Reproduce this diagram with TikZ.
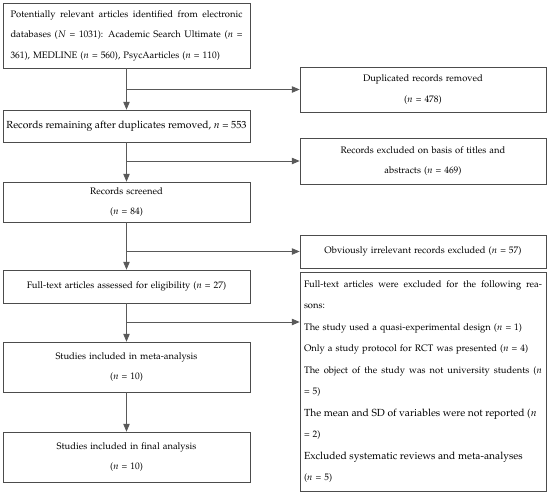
\documentclass[tikz,border=0pt]{standalone}
\usepackage[T1]{fontenc}
\usepackage{mathpazo}
\usetikzlibrary{arrows}
\newcommand{\jl}[2][232pt]{\makebox[#1][s]{#2}}
\newcommand{\bodytxt}{\fontsize{9.4}{20.5}\selectfont\spaceskip=0.32em plus 0.2em minus 0.1em}
\newcommand{\bigtxt}{\fontsize{10.3}{20.5}\selectfont\spaceskip=0pt}
\tikzset{leftbox/.style={draw=black!70, line width=0.7pt, rectangle, minimum width=247pt, inner sep=0pt, align=center, font=\bodytxt},
rightbox/.style={draw=black!70, line width=0.7pt, rectangle, minimum width=246pt, inner sep=0pt, align=center, font=\bodytxt},
flow/.style={draw=black!65, line width=0.8pt, -triangle 45}}

\begin{document}
\begin{tikzpicture}[x=1pt, y=-1pt]
\useasboundingbox (0, 0) rectangle (550, 496);
\node[leftbox, minimum height=65pt] (ident) at (126.5, 35.5) {\begin{minipage}{232pt}\bodytxt
\jl{Potentially relevant articles identified from electronic}\\
\jl{databases ($N$ = 1031): Academic Search Ultimate ($n$ =}\\
361), MEDLINE ($n$ = 560), PsycAarticles ($n$ = 110)\end{minipage}};
\node[leftbox, minimum height=32pt, font=\bigtxt] (remain) at (126.5, 126) {Records remaining after duplicates removed, $n$ = 553};
\node[leftbox, minimum height=40pt] (screen) at (126.5, 202) {Records screened\\($n$ = 84)};
\node[leftbox, minimum height=33pt] (full) at (126.5, 286.5) {Full-text articles assessed for eligibility ($n$ = 27)};
\node[leftbox, minimum height=50pt] (meta) at (126.5, 367) {Studies included in meta-analysis\\($n$ = 10)};
\node[leftbox, minimum height=50pt] (final) at (126.5, 457) {Studies included in final analysis\\($n$ = 10)};
\node[rightbox, minimum height=45pt] (dup) at (423, 89.5) {Duplicated records removed\\($n$ = 478)};
\node[rightbox, minimum height=46pt] (excl) at (423, 161) {Records excluded on basis of titles and\\abstracts ($n$ = 469)};
\node[rightbox, minimum height=33pt] (irrel) at (423, 251.5) {Obviously irrelevant records excluded ($n$ = 57)};
\node[rightbox, minimum height=219pt] (reason) at (423, 381.5) {\begin{minipage}{238pt}\bodytxt\baselineskip=21.5pt
\jl[238pt]{Full-text articles were excluded for the following rea-}\\
sons:\\
The study used a quasi-experimental design ($n$ = 1)\\
Only a study protocol for RCT was presented ($n$ = 4)\\
\jl[238pt]{The object of the study was not university students ($n$}\\
= 5)\\
\mbox{\bigtxt The mean and SD of variables were not reported ($n$}\\
= 2)\\
\mbox{\bigtxt Excluded systematic reviews and meta-analyses}\\
($n$ = 5)\end{minipage}};
% branch points on the main line
\coordinate (b1) at (ident.south |- dup.west);
\coordinate (b2) at (remain.south |- excl.west);
\coordinate (b3) at (screen.south |- irrel.west);
\coordinate (b4) at (126.5, 322);
\draw[flow] (ident) -- (remain);
\draw[flow] (remain) -- (screen);
\draw[flow] (screen) -- (full);
\draw[flow] (full) -- (meta);
\draw[flow] (meta) -- (final);
\draw[flow] (b1) -- (dup.west);
\draw[flow] (b2) -- (excl.west);
\draw[flow] (b3) -- (irrel.west);
\draw[flow] (b4) -- (b4 -| reason.west);
\end{tikzpicture}
\end{document}
